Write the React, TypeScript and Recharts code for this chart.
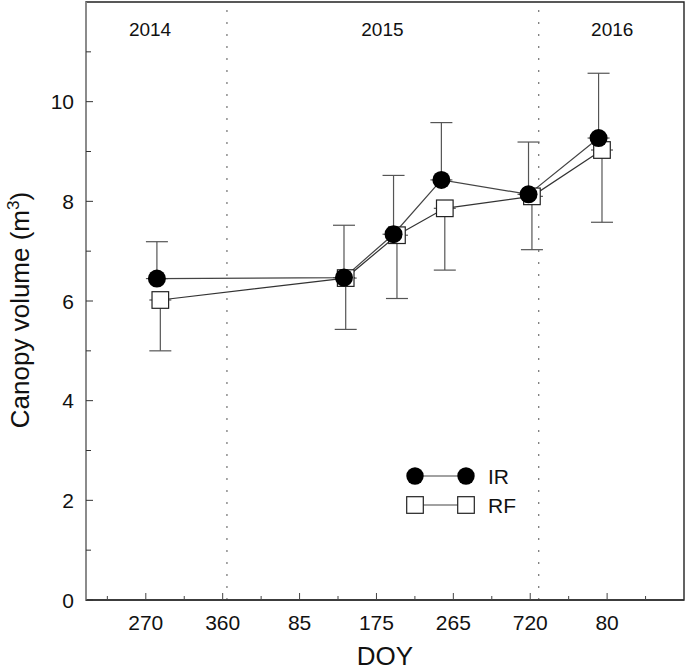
import React from 'react';
import { ComposedChart, Line, XAxis, YAxis, ErrorBar, ReferenceLine, ReferenceDot, ReferenceArea, Legend } from 'recharts';

const irDays = [283, 502, 560, 616, 718, 800];
const irValues = [6.45, 6.47, 7.34, 8.43, 8.14, 9.27];
const irErrUp = [0.74, 1.05, 1.18, 1.15, 1.05, 1.3];

const rfDays = [287, 504, 564, 620, 722, 804];
const rfValues = [6.02, 6.46, 7.32, 7.86, 8.1, 9.03];
const rfErrDown = [1.02, 1.03, 1.27, 1.24, 1.07, 1.45];

const majorTickDays = [270, 360, 450, 540, 630, 720, 810];
const majorTickLabels = ['270', '360', '85', '175', '265', '720', '80'];
const minorTickDays = [225, 315, 405, 495, 585, 675, 765, 855];

const yMajorTicks = [0, 2, 4, 6, 8, 10];
const yMinorTicks = [1, 3, 5, 7, 9, 11];

const yearBoundaries = [365, 730];
const yearLabelDays = [275, 547, 816];
const yearLabels = ['2014', '2015', '2016'];
const yearLabelLevel = 11.46;

const FONT = '"Liberation Sans", Arial, Helvetica, sans-serif';

const irData = irDays.map((d, i) => ({ day: d, v: irValues[i], err: [0, irErrUp[i]] }));
const rfData = rfDays.map((d, i) => ({ day: d, v: rfValues[i], err: [rfErrDown[i], 0] }));
const xTicks = [...majorTickDays, ...minorTickDays].sort((a, b) => a - b);
const yTicks = [...yMajorTicks, ...yMinorTicks].sort((a, b) => a - b);

const CircleDot = (p: any) => {
  if (p.cx == null || p.cy == null) return null;
  return <circle cx={p.cx} cy={p.cy} r={9} fill="#000" />;
};

const SquareDot = (p: any) => {
  if (p.cx == null || p.cy == null) return null;
  const h = 8.3;
  return <rect x={p.cx - h} y={p.cy - h} width={2 * h} height={2 * h} fill="#fff" stroke="#222" strokeWidth={1.2} />;
};

const BottomTick = (props: any) => {
  const { x, y, payload } = props;
  const axisY = y - 15;
  const idx = majorTickDays.indexOf(payload.value);
  const major = idx >= 0;
  return (
    <g>
      <line x1={x} x2={x} y1={axisY} y2={axisY - (major ? 7 : 4)} stroke="#444" strokeWidth={1} />
      {major && (
        <text x={x} y={y} dy="0.716em" textAnchor="middle" fontSize={21} fill="#111" fontFamily={FONT}>
          {majorTickLabels[idx]}
        </text>
      )}
    </g>
  );
};

const LeftTick = (props: any) => {
  const { x, y, payload } = props;
  const axisX = x + 12;
  const major = yMajorTicks.indexOf(payload.value) >= 0;
  return (
    <g>
      <line x1={axisX} x2={axisX + (major ? 7 : 5)} y1={y} y2={y} stroke="#333" strokeWidth={1} />
      {major && (
        <text x={x} y={y} dy="0.36em" textAnchor="end" fontSize={21} fill="#111" fontFamily={FONT}>
          {payload.value}
        </text>
      )}
    </g>
  );
};

const YearLabel = (props: any) => {
  const vb = props.viewBox || {};
  const cx = vb.cx != null ? vb.cx : vb.x + (vb.width || 0) / 2;
  const cy = vb.cy != null ? vb.cy : vb.y + (vb.height || 0) / 2;
  return (
    <text x={cx} y={cy} dy="0.36em" textAnchor="middle" fontSize={19} fill="#111" fontFamily={FONT}>
      {props.value}
    </text>
  );
};

const YTitle = (props: any) => {
  const vb = props.viewBox || { x: 0, y: 0, width: 86, height: 600 };
  const cx = vb.x + 29;
  const cy = vb.y + vb.height / 2 + 9;
  return (
    <text x={cx} y={cy} transform={`rotate(-90 ${cx} ${cy})`} textAnchor="middle" fontSize={26} fill="#111" fontFamily={FONT}>
      <tspan>Canopy volume (m</tspan>
      <tspan dy={-10} fontSize={17}>3</tspan>
      <tspan dy={10}>)</tspan>
    </text>
  );
};

const XTitle = (props: any) => {
  const vb = props.viewBox || { x: 86, y: 600, width: 598, height: 72 };
  return (
    <text x={vb.x + vb.width / 2} y={vb.y + 65} textAnchor="middle" fontSize={26} fill="#111" fontFamily={FONT}>
      DOY
    </text>
  );
};

const LegendBox = () => (
  <svg width={140} height={60} style={{ display: 'block' }}>
    <line x1={15} x2={66} y1={14} y2={14} stroke="#444" strokeWidth={1.2} />
    <circle cx={15} cy={14} r={8.7} fill="#000" />
    <circle cx={66} cy={14} r={8.7} fill="#000" />
    <text x={88} y={14} dy="0.36em" fontSize={21} fill="#111" fontFamily={FONT}>IR</text>
    <line x1={15} x2={66} y1={43} y2={43} stroke="#444" strokeWidth={1.2} />
    <rect x={15 - 8.3} y={43 - 8.3} width={16.6} height={16.6} fill="#fff" stroke="#222" strokeWidth={1.2} />
    <rect x={66 - 8.3} y={43 - 8.3} width={16.6} height={16.6} fill="#fff" stroke="#222" strokeWidth={1.2} />
    <text x={88} y={43} dy="0.36em" fontSize={21} fill="#111" fontFamily={FONT}>RF</text>
  </svg>
);

export default function App() {
  return (
    <div style={{ position: 'absolute', left: 0, top: 0, background: '#fff' }}>
      <ComposedChart width={686} height={672} margin={{ top: 2, right: 2, bottom: 0, left: 0 }}>
        <XAxis
          dataKey="day"
          type="number"
          domain={[200, 900]}
          allowDataOverflow
          ticks={xTicks}
          interval={0}
          tickSize={0}
          tickMargin={15}
          tickLine={false}
          tick={<BottomTick />}
          axisLine={{ stroke: '#333', strokeWidth: 1.3 }}
          height={72}
          label={<XTitle />}
        />
        <YAxis
          type="number"
          domain={[0, 12]}
          allowDataOverflow
          ticks={yTicks}
          interval={0}
          tickSize={0}
          tickMargin={12}
          tickLine={false}
          tick={<LeftTick />}
          axisLine={{ stroke: '#999', strokeWidth: 1.5 }}
          width={86}
          label={<YTitle />}
        />
        <ReferenceArea
          x1={200}
          x2={900}
          y1={0}
          y2={12}
          fill="none"
          fillOpacity={0}
          stroke="#222"
          strokeWidth={1.4}
          strokeOpacity={1}
          ifOverflow="visible"
        />
        {yearBoundaries.map((d) => (
          <ReferenceLine key={d} x={d} stroke="#555" strokeWidth={1} strokeDasharray="2 10" />
        ))}
        {yearLabelDays.map((d, i) => (
          <ReferenceDot
            key={d}
            x={d}
            y={yearLabelLevel}
            r={0}
            fill="none"
            stroke="none"
            label={<YearLabel value={yearLabels[i]} />}
          />
        ))}
        <Line
          data={rfData}
          dataKey="v"
          type="linear"
          stroke="#333"
          strokeWidth={1.2}
          dot={<SquareDot />}
          activeDot={false}
          isAnimationActive={false}
        >
          <ErrorBar dataKey="err" width={11} stroke="#555" strokeWidth={1.2} direction="y" />
        </Line>
        <Line
          data={irData}
          dataKey="v"
          type="linear"
          stroke="#444"
          strokeWidth={1.2}
          dot={<CircleDot />}
          activeDot={false}
          isAnimationActive={false}
        >
          <ErrorBar dataKey="err" width={11} stroke="#555" strokeWidth={1.2} direction="y" />
        </Line>
        <Legend
          layout="vertical"
          align="center"
          verticalAlign="middle"
          width={140}
          height={60}
          content={() => <LegendBox />}
          wrapperStyle={{ position: 'absolute', left: 400, top: 462, width: 140, height: 60 }}
        />
      </ComposedChart>
    </div>
  );
}
